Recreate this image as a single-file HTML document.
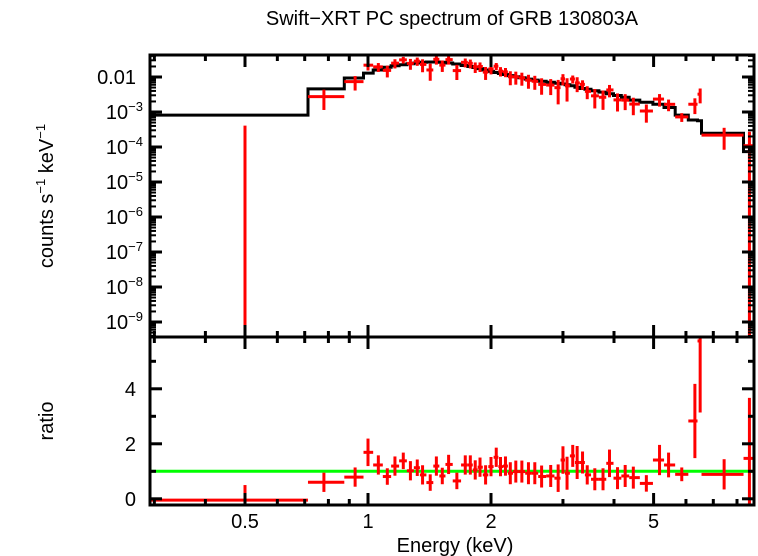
<!DOCTYPE html>
<html><head><meta charset="utf-8"><style>
html,body{margin:0;padding:0;background:#fff;}
svg{display:block;font-family:"Liberation Sans",sans-serif;}
</style></head><body>
<svg id="chart" width="758" height="556" viewBox="0 0 758 556">
<text x="452" y="25" font-size="20" text-anchor="middle">Swift−XRT PC spectrum of GRB 130803A</text>
<text transform="translate(53,196) rotate(-90)" font-size="20" text-anchor="middle">counts s<tspan font-size="13" dy="-8">−1</tspan><tspan dy="8"> keV</tspan><tspan font-size="13" dy="-8">−1</tspan></text>
<text transform="translate(53,421) rotate(-90)" font-size="20" text-anchor="middle">ratio</text>
<text x="455" y="552" font-size="20" text-anchor="middle">Energy (keV)</text>
<g id="g"></g>
</svg>
<script>
const energies=[0.5,0.78,0.93,1.00,1.06,1.115,1.164,1.22,1.27,1.32,1.36,1.42,1.47,1.52,1.575,1.65,1.73,1.78,1.83,1.88,1.94,2.00,2.06,2.11,2.17,2.23,2.30,2.38,2.47,2.56,2.66,2.80,2.92,3.00,3.07,3.17,3.25,3.35,3.44,3.59,3.76,3.90,4.08,4.26,4.46,4.80,5.17,5.44,5.86,6.31,6.50,7.44,8.58];
const modelLog=[-3.09,-2.34,-2.03,-1.89,-1.80,-1.72,-1.68,-1.65,-1.62,-1.60,-1.58,-1.57,-1.57,-1.58,-1.60,-1.63,-1.67,-1.70,-1.73,-1.76,-1.80,-1.84,-1.87,-1.90,-1.93,-1.96,-1.99,-2.02,-2.06,-2.09,-2.12,-2.15,-2.18,-2.20,-2.22,-2.25,-2.29,-2.33,-2.35,-2.39,-2.43,-2.48,-2.53,-2.58,-2.66,-2.72,-2.78,-2.87,-3.09,-3.23,-3.25,-3.61,-4.13];
const ratios=[-0.05,0.6,0.79,1.69,1.23,0.81,1.19,1.38,1.02,1.13,0.87,0.59,1.19,0.83,1.25,0.65,1.23,1.23,1.05,1.15,0.87,1.17,1.51,1.17,1.19,0.93,0.99,0.99,0.93,0.93,0.81,0.83,0.75,1.41,0.93,1.56,1.32,1.32,0.87,0.71,0.71,1.29,0.75,0.83,0.77,0.56,1.41,1.23,0.89,2.83,5.74,0.89,1.47];
const ratioErr=[0.55,0.35,0.35,0.5,0.35,0.3,0.35,0.3,0.35,0.3,0.35,0.3,0.35,0.3,0.35,0.3,0.35,0.35,0.35,0.35,0.35,0.35,0.35,0.35,0.35,0.4,0.4,0.4,0.4,0.4,0.4,0.4,0.5,0.5,0.6,0.4,0.6,0.4,0.35,0.4,0.4,0.5,0.4,0.4,0.4,0.3,0.55,0.45,0.25,1.35,2.6,0.55,2.2];
const yTickLabels=["0.01","10","10","10","10","10","10","10"];
const yTickExps=["","−3","−4","−5","−6","−7","−8","−9"];
const yTickValues=[-2,-3,-4,-5,-6,-7,-8,-9];
const ratioTicks=[0,2,4];
const xTickValues=[0.5,1,2,5];
const xMinor=[0.3,0.4,0.6,0.7,0.8,0.9,3,4,6,7,8];

const L=150,R=754,T1=55,B1=337,T2=337,B2=505;
const PPD=408.6;
function xs(e){return 368+Math.log10(e)*PPD;}
function ys(lg){return 77+(-2-lg)*35;}
function yr(r){return 471.3-(r-1)*27.5;}
const ns="http://www.w3.org/2000/svg";
const g=document.getElementById('g');
function mk(t,a,parent){const el=document.createElementNS(ns,t);for(const k in a)el.setAttribute(k,a[k]);(parent||g).appendChild(el);return el;}
function clamp(v,a,b){return Math.max(a,Math.min(b,v));}

const n=energies.length;
const edges=[];
edges.push(0.292);
for(let i=1;i<n;i++)edges.push(Math.sqrt(energies[i-1]*energies[i]));
edges.push(8.85);
edges[1]=0.713;edges[2]=0.875;edges[3]=0.975;edges[51]=6.55;edges[52]=8.3;

let d="";
for(let i=0;i<n;i++){
  const y=ys(modelLog[i]);
  const x0=xs(edges[i]),x1=xs(edges[i+1]);
  d+=(i===0?"M":"L")+x0.toFixed(1)+","+y.toFixed(1)+"L"+x1.toFixed(1)+","+y.toFixed(1);
}
const mline=mk('path',{d:d,fill:'none',stroke:'#000','stroke-width':3});



const gl=mk('line',{x1:L,x2:R,y1:yr(1),y2:yr(1),stroke:'#00ff00','stroke-width':3});



for(let i=0;i<n;i++){
  const x0=clamp(xs(edges[i]),L,R),x1=clamp(xs(edges[i+1]),L,R),xc=clamp(xs(energies[i]),L,R-2);
  const m=Math.pow(10,modelLog[i]);
  const val=m*ratios[i],lo=m*(ratios[i]-ratioErr[i]),hi=m*(ratios[i]+ratioErr[i]);
  const yv=val>0?clamp(ys(Math.log10(val)),T1,B1):B1;
  const ylo=lo>0?clamp(ys(Math.log10(lo)),T1,B1):B1;
  const yhi=hi>0?clamp(ys(Math.log10(hi)),T1,B1):B1;
  const grp=mk('g',{stroke:'#ff0000','stroke-width':3});
  
  
  if(val>0) mk('line',{x1:x0,x2:x1,y1:yv,y2:yv},grp);
  mk('line',{x1:xc,x2:xc,y1:ylo,y2:yhi},grp);
  const grp2=mk('g',{stroke:'#ff0000','stroke-width':3});
  
  
  const ry=clamp(yr(ratios[i]),T2,B2);
  mk('line',{x1:x0,x2:x1,y1:ry,y2:ry},grp2);
  mk('line',{x1:xc,x2:xc,y1:clamp(yr(ratios[i]-ratioErr[i]),T2,B2),y2:clamp(yr(ratios[i]+ratioErr[i]),T2,B2)},grp2);
}

const f1=mk('rect',{x:L,y:T1,width:R-L,height:B1-T1,fill:'none',stroke:'#000','stroke-width':3});


const f2=mk('rect',{x:L,y:T2,width:R-L,height:B2-T2,fill:'none',stroke:'#000','stroke-width':3});



function xtick(e,len){
  const x=xs(e);
  [[T1,1],[B1,-1],[T2,1],[B2,-1]].forEach(([y,s])=>mk('line',{x1:x,x2:x,y1:y,y2:y+s*len,stroke:'#000','stroke-width':3}));
}
xTickValues.forEach(e=>xtick(e,12));
xMinor.forEach(e=>xtick(e,6));
xTickValues.forEach(e=>{
  const t=mk('text',{x:xs(e),y:528,'font-size':20,'text-anchor':'middle'});
  t.textContent=String(e);
  
  
});
for(let k=-9;k<=-2;k++){
  const y=ys(k);
  mk('line',{x1:L,x2:L+12,y1:y,y2:y,stroke:'#000','stroke-width':3});
  mk('line',{x1:R,x2:R-12,y1:y,y2:y,stroke:'#000','stroke-width':3});
  for(let m=2;m<10;m++){
    const ym=ys(k-1+Math.log10(m));
    if(ym>T1&&ym<B1){
      mk('line',{x1:L,x2:L+6,y1:ym,y2:ym,stroke:'#000','stroke-width':2});
      mk('line',{x1:R,x2:R-6,y1:ym,y2:ym,stroke:'#000','stroke-width':2});
    }
  }
}
for(let m=2;m<10;m++){const ym=ys(-2+Math.log10(m));if(ym>T1){mk('line',{x1:L,x2:L+6,y1:ym,y2:ym,stroke:'#000','stroke-width':2});mk('line',{x1:R,x2:R-6,y1:ym,y2:ym,stroke:'#000','stroke-width':2});}}
yTickValues.forEach((v,i)=>{
  const t=mk('text',{x:136,y:ys(v)+7,'font-size':20,'text-anchor':'end'});
  t.textContent=yTickLabels[i];
  if(yTickExps[i]){const sp=mk('tspan',{'font-size':13,dy:-8},t);sp.textContent=yTickExps[i];t.setAttribute('x',143);}
  
  
});
for(let r=0;r<=5;r++){
  const y=yr(r);
  const len=r%2===0?12:6;
  mk('line',{x1:L,x2:L+len,y1:y,y2:y,stroke:'#000','stroke-width':3});
  mk('line',{x1:R,x2:R-len,y1:y,y2:y,stroke:'#000','stroke-width':3});
}
ratioTicks.forEach(r=>{
  const t=mk('text',{x:136,y:yr(r)+7,'font-size':20,'text-anchor':'end'});
  t.textContent=String(r);
  
  
});
</script>
</body></html>
